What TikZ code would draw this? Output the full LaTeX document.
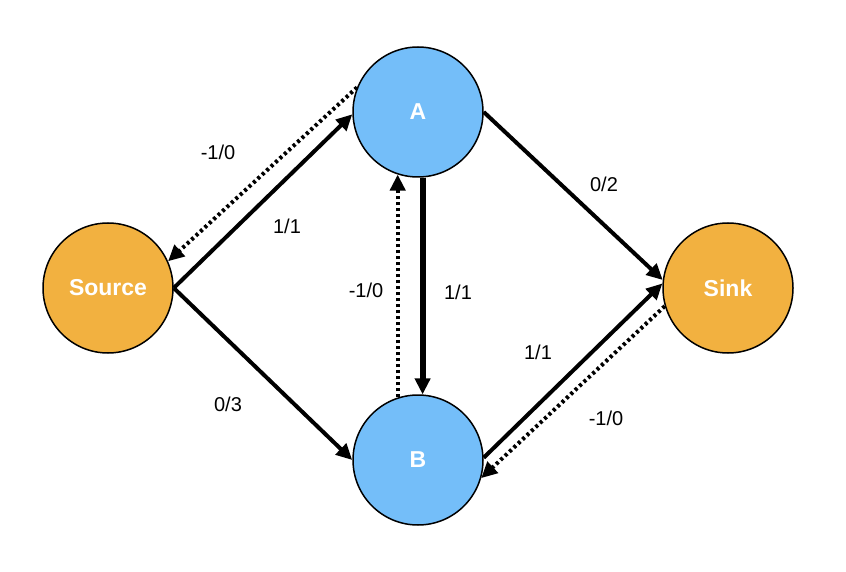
\documentclass[tikz,border=0pt]{standalone}
\usepackage{fontspec}
\setmainfont{Liberation Sans}
\usetikzlibrary{arrows.meta}
\definecolor{nblue}{HTML}{74BEF9}
\definecolor{norange}{HTML}{F2B140}
\begin{document}
\begin{tikzpicture}[x=1pt,y=-1pt,
  vtx/.style={circle,draw=black,line width=1.5pt,minimum size=130pt,inner sep=0pt,text=white,font=\fontsize{23}{27}\selectfont\bfseries},
  e/.style={line width=4pt,-{Triangle[length=16pt,width=15pt]}},
  ed/.style={e,dash pattern=on 3pt off 3pt},
  lab/.style={font=\fontsize{20}{24}\selectfont}]
\useasboundingbox (0,0) rectangle (846,572);
\node[vtx,fill=norange] (S) at (108,288) {Source};
\node[vtx,fill=nblue] (A) at (418,112) {A};
\node[vtx,fill=nblue] (B) at (418,460) {B};
\node[vtx,fill=norange] (T) at (728,288) {Sink};
\draw[e] (S.east) -- (A.182);
\draw[ed] (A.158) -- (S.24);
\draw[e] (S.east) -- (B.180);
\draw[e,line width=6pt] (A.-86) -- (B.86);
\draw[ed] (B.108) -- (A.-108);
\draw[e] (A.0) -- (T.173);
\draw[e] (B.2) -- (T.176);
\draw[ed] (T.-164) -- (B.-16);
\node[lab] (l1) at (218,152) {-1/0};
\node[lab] (l2) at (287,226) {1/1};
\node[lab] (l3) at (228,404) {0/3};
\node[lab] (l4) at (366,290) {-1/0};
\node[lab] (l5) at (458,292) {1/1};
\node[lab] (l6) at (604,184) {0/2};
\node[lab] (l7) at (538,352) {1/1};
\node[lab] (l8) at (606,418) {-1/0};
\end{tikzpicture}
\end{document}
